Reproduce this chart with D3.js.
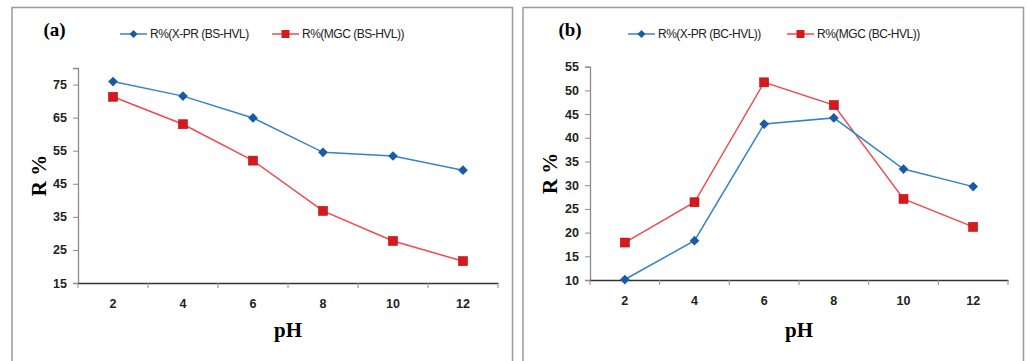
<!DOCTYPE html>
<html>
<head>
<meta charset="utf-8">
<script src="https://cdn.jsdelivr.net/npm/d3@7"></script>
<style>
  body { margin: 0; background: #fff; }
  svg { display: block; }
  .tick text { font-family: "Liberation Sans", Arial, sans-serif; font-size: 12.5px; font-weight: bold; fill: #222; }
</style>
</head>
<body>
<svg id="chart" width="1027" height="361"></svg>
<script>
// pH categories shared by both panels
const phValues = [2, 4, 6, 8, 10, 12];

// panel (a)
const xprBS = [75.9, 71.5, 64.9, 54.5, 53.4, 49.1];
const mgcBS = [71.3, 63.0, 52.0, 36.8, 27.7, 21.6];
const ticksA = [15, 25, 35, 45, 55, 65, 75];

// panel (b)
const xprBC = [10.1, 18.3, 42.9, 44.2, 33.4, 29.7];
const mgcBC = [17.9, 26.4, 51.7, 46.9, 27.1, 21.2];
const ticksB = [10, 15, 20, 25, 30, 35, 40, 45, 50, 55];

const svg = d3.select("#chart");

const blueLine = "#3584c6", blueMark = "#1b5aa6";
const redLine = "#ee4a4f", redMark = "#d7191c";

function drawPanel(opts) {
  const vis = {};

  // frame
  svg.append("path")
      .attr("d", `M${opts.frame[0]},370 V${opts.frame[1]} H${opts.frame[2]} V370`)
      .attr("fill", "none")
      .attr("stroke", "#9a9a9a")
      .attr("stroke-width", 1.5);

  vis.x = d3.scaleBand()
      .domain(phValues)
      .range([opts.left, opts.right])
      .paddingInner(0)
      .paddingOuter(0);
  vis.y = d3.scaleLinear()
      .domain(opts.domain)
      .range([opts.bottom, opts.top]);

  // y axis
  const gy = svg.append("g")
      .attr("transform", `translate(${opts.left},0)`)
      .call(d3.axisLeft(vis.y).tickValues(opts.ticks).tickSize(5).tickPadding(6));
  gy.selectAll("path.domain").attr("stroke", "#8c8c8c").attr("stroke-width", 1.3);
  gy.selectAll(".tick line").attr("stroke", "#8c8c8c");

  // x axis, ticks between categories
  const gx = svg.append("g")
      .attr("transform", `translate(0,${opts.bottom})`)
      .call(d3.axisBottom(vis.x).tickSize(0).tickPadding(16).tickSizeOuter(0));
  gx.selectAll("path.domain").attr("stroke", "#333").attr("stroke-width", 1.5);
  gx.selectAll(".tick line").remove();
  gx.selectAll(".sep")
    .data(d3.range(phValues.length + 1))
    .join("line")
      .attr("class", "sep")
      .attr("x1", i => opts.left + i * vis.x.step())
      .attr("x2", i => opts.left + i * vis.x.step())
      .attr("y1", 0)
      .attr("y2", 5)
      .attr("stroke", "#8c8c8c");

  const line = d3.line()
      .x((d, i) => vis.x(phValues[i]) + vis.x.bandwidth() / 2)
      .y(d => vis.y(d));

  // red series
  svg.append("path")
      .attr("d", line(opts.red))
      .attr("fill", "none")
      .attr("stroke", redLine)
      .attr("stroke-width", 1.5);
  // blue series
  svg.append("path")
      .attr("d", line(opts.blue))
      .attr("fill", "none")
      .attr("stroke", blueLine)
      .attr("stroke-width", 1.5);

  svg.selectAll(null)
    .data(opts.red)
    .join("rect")
      .attr("x", (d, i) => vis.x(phValues[i]) + vis.x.bandwidth() / 2 - 4.5)
      .attr("y", d => vis.y(d) - 4.5)
      .attr("width", 9)
      .attr("height", 9)
      .attr("fill", redMark)
      .attr("stroke", "#b3121a")
      .attr("stroke-width", 0.6);

  const diamond = d3.symbol().type(d3.symbolDiamond2).size(60);
  svg.selectAll(null)
    .data(opts.blue)
    .join("path")
      .attr("d", diamond)
      .attr("transform", (d, i) => `translate(${vis.x(phValues[i]) + vis.x.bandwidth() / 2},${vis.y(d)})`)
      .attr("fill", blueMark);

  // panel letter
  svg.append("text")
      .attr("x", opts.letterX)
      .attr("y", 36)
      .attr("text-anchor", "middle")
      .style("font-family", "'Liberation Serif', 'Times New Roman', serif")
      .style("font-size", "19px")
      .style("font-weight", "bold")
      .text(opts.letter);

  // axis titles
  svg.append("text")
      .attr("transform", `translate(${opts.yTitleX},${(opts.top + opts.bottom) / 2}) rotate(-90)`)
      .attr("text-anchor", "middle")
      .style("font-family", "'Liberation Serif', 'Times New Roman', serif")
      .style("font-size", "21px")
      .style("font-weight", "bold")
      .text("R %");
  svg.append("text")
      .attr("x", (opts.left + opts.right) / 2)
      .attr("y", 337)
      .attr("text-anchor", "middle")
      .style("font-family", "'Liberation Serif', 'Times New Roman', serif")
      .style("font-size", "21px")
      .style("font-weight", "bold")
      .text("pH");

  // legend
  const leg = svg.append("g")
      .style("font-family", "'Liberation Sans', Arial, sans-serif")
      .style("font-size", "12px")
      .style("letter-spacing", "-0.5px")
      .attr("fill", "#222");
  opts.legend.forEach(item => {
    const g = leg.append("g").attr("transform", `translate(${item.x},34)`);
    g.append("line")
        .attr("x1", 0).attr("x2", 27)
        .attr("stroke", item.color === "blue" ? blueLine : redLine)
        .attr("stroke-width", 1.5);
    if (item.color === "blue") {
      g.append("path")
          .attr("d", d3.symbol().type(d3.symbolDiamond2).size(40))
          .attr("transform", "translate(13.5,0)")
          .attr("fill", blueMark);
    } else {
      g.append("rect")
          .attr("x", 9.5).attr("y", -4).attr("width", 8).attr("height", 8)
          .attr("fill", redMark);
    }
    g.append("text")
        .attr("x", 30)
        .attr("dy", "0.35em")
        .text(item.label);
  });

  return vis;
}

drawPanel({
  frame: [12, 7.5, 512.5],
  left: 78, right: 498, top: 68, bottom: 283,
  domain: [15, 80], ticks: ticksA,
  blue: xprBS, red: mgcBS,
  letter: "(a)", letterX: 54.5, yTitleX: 46,
  legend: [
    {x: 120, color: "blue", label: "R%(X-PR (BS-HVL)"},
    {x: 272, color: "red", label: "R%(MGC (BS-HVL))"}
  ]
});

drawPanel({
  frame: [523, 7.5, 1023.5],
  left: 590, right: 1008, top: 66.7, bottom: 280,
  domain: [10, 55], ticks: ticksB,
  blue: xprBC, red: mgcBC,
  letter: "(b)", letterX: 570, yTitleX: 557,
  legend: [
    {x: 628, color: "blue", label: "R%(X-PR (BC-HVL))"},
    {x: 787, color: "red", label: "R%(MGC (BC-HVL))"}
  ]
});
</script>
</body>
</html>
